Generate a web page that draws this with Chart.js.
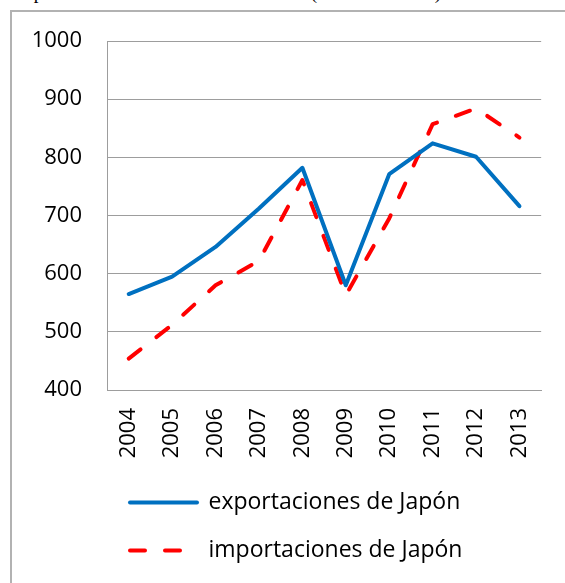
<!DOCTYPE html>
<html>
<head>
<meta charset="utf-8">
<script src="https://cdn.jsdelivr.net/npm/chart.js@4.4.1/dist/chart.umd.min.js"></script>
<style>
  html, body { margin:0; padding:0; background:#fff; overflow:hidden; width:565px; height:583px; }
  #cap { position:absolute; left:18px; top:-17px; font-family:"Liberation Serif", serif; font-size:19px; line-height:19px; white-space:nowrap; color:#000; }
  #frame { position:absolute; left:10px; top:10px; width:600px; height:600px; border-left:2px solid #B2B2B2; border-top:2px solid #B2B2B2; }
  #wrap { position:absolute; left:0; top:0; width:565px; height:583px; }
</style>
</head>
<body>
<div id="cap">Japón en miles de millones de dólares (USD corrientes)</div>
<div id="frame"></div>
<div id="wrap"><canvas id="c" width="565" height="583"></canvas></div>
<script>
const years = ['2004','2005','2006','2007','2008','2009','2010','2011','2012','2013'];
const exportsJP = [565, 595, 646, 712, 782, 580, 771, 824, 801, 716];
const importsJP = [454, 512, 580, 622, 761, 563, 695, 857, 884, 834];
const seriesNames = ['exportaciones de Japón', 'importaciones de Japón'];
const yMin = 400, yMax = 1000, yStep = 100;

const tickFont = { family: 'Open Sans', size: 22 };
const gridColor = '#9D9D9D';

const legendShift = {
  id: 'legendShift',
  afterLayout(chart) { if (chart.legend) chart.legend.left = 105; }
};

new Chart(document.getElementById('c'), {
  type: 'line',
  data: {
    labels: years,
    datasets: [
      { label: seriesNames[0], data: exportsJP, borderColor: '#0070C0', backgroundColor: '#0070C0',
        borderWidth: 4, pointRadius: 0, tension: 0, fill: false,
        borderCapStyle: 'round', borderJoinStyle: 'round' },
      { label: seriesNames[1], data: importsJP, borderColor: '#FF0000', backgroundColor: '#FF0000',
        borderWidth: 4, pointRadius: 0, tension: 0, fill: false, borderDash: [15, 20],
        borderCapStyle: 'round', borderJoinStyle: 'round' }
    ]
  },
  plugins: [legendShift],
  options: {
    responsive: false,
    devicePixelRatio: 1,
    animation: false,
    layout: { padding: { left: 20, right: 23, top: 41, bottom: 11 } },
    scales: {
      x: {
        offset: true,
        grid: { display: false, drawTicks: false },
        border: { display: true, color: gridColor, width: 1 },
        ticks: { minRotation: 90, maxRotation: 90, autoSkip: false, padding: 18, color: '#000', font: tickFont },
        afterFit(s) { s.height = 76; }
      },
      y: {
        min: yMin, max: yMax,
        grid: { color: gridColor, lineWidth: 1, drawTicks: false },
        border: { display: true, color: gridColor, width: 1 },
        ticks: { stepSize: yStep, padding: 25, color: '#000', font: tickFont,
                 callback: (v) => String(v) },
        afterFit(s) { s.width = 87; }
      }
    },
    plugins: {
      title: { display: false },
      tooltip: { enabled: false },
      legend: {
        position: 'bottom',
        align: 'start',
        fullSize: false,
        labels: {
          usePointStyle: true,
          pointStyleWidth: 67,
          padding: 25,
          color: '#000',
          font: { family: 'Open Sans', size: 23 },
          generateLabels(chart) {
            return chart.data.datasets.map((d, i) => ({
              text: d.label,
              fillStyle: 'rgba(0,0,0,0)',
              strokeStyle: d.borderColor,
              lineWidth: 4,
              lineDash: d.borderDash || [],
              lineDashOffset: 0,
              lineCap: 'round',
              pointStyle: 'line',
              rotation: 0,
              hidden: false,
              datasetIndex: i
            }));
          }
        }
      }
    }
  }
});
</script>
</body>
</html>
